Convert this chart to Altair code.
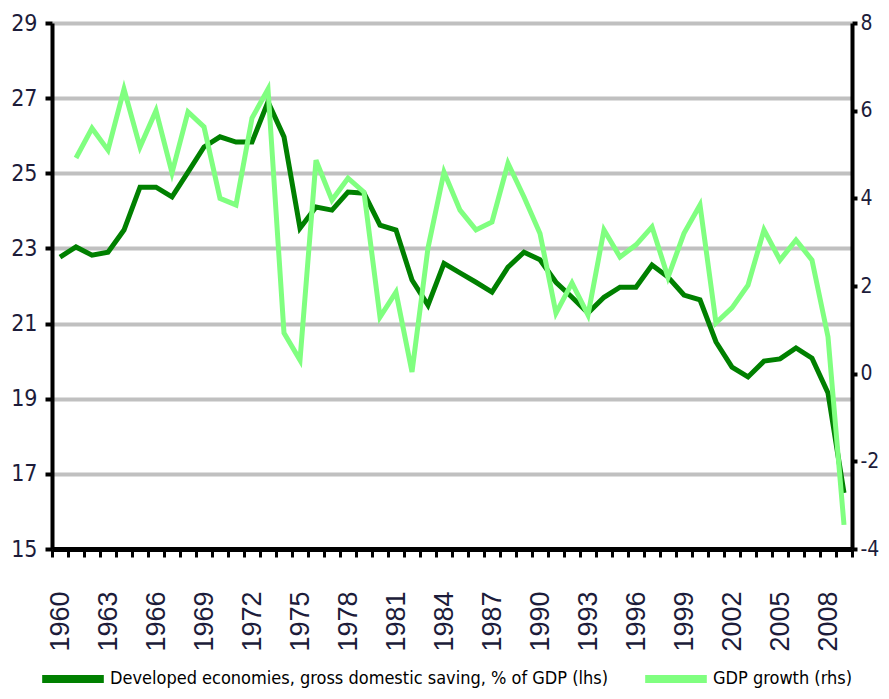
import altair as alt
import pandas as pd

years = list(range(1960, 2010))

saving = [22.77, 23.04, 22.82, 22.90, 23.49, 24.63, 24.63, 24.37, 25.03, 25.70,
          25.97, 25.83, 25.83, 26.90, 25.97, 23.54, 24.10, 24.02, 24.50, 24.47,
          23.62, 23.49, 22.16, 21.49, 22.60, 22.35, 22.10, 21.84, 22.50, 22.90,
          22.70, 22.10, 21.70, 21.28, 21.70, 21.97, 21.97, 22.56, 22.24, 21.76,
          21.63, 20.51, 19.84, 19.58, 20.00, 20.06, 20.35, 20.08, 19.15, 16.49]

growth_years = list(range(1961, 2010))
growth = [4.92, 5.60, 5.10, 6.49, 5.17, 6.00, 4.58, 5.97, 5.63,
          4.00, 3.85, 5.83, 6.49, 0.93, 0.31, 4.87, 3.96, 4.46, 4.14,
          1.29, 1.86, 0.04, 2.87, 4.60, 3.73, 3.28, 3.46, 4.80, 4.03,
          3.20, 1.38, 2.07, 1.34, 3.28, 2.66, 2.94, 3.35, 2.20, 3.20,
          3.85, 1.16, 1.50, 2.02, 3.28, 2.59, 3.05, 2.59, 0.84, -3.45]

name1 = "Developed economies, gross domestic saving, % of GDP (lhs)"
name2 = "GDP growth (rhs)"
left_ticks = [15, 17, 19, 21, 23, 25, 27, 29]
right_ticks = [-4, -2, 0, 2, 4, 6, 8]

df1 = pd.DataFrame({"year": years, "value": saving, "series": name1})
df2 = pd.DataFrame({"year": growth_years, "value": growth, "series": name2})

NARROW = "DejaVu Sans Condensed, Liberation Sans Narrow, sans-serif"
LABEL_COLOR = "#1c1c3a"

xenc = alt.X(
    "year:O",
    title=None,
    bandPosition=0.5,
    scale=alt.Scale(type="band", domain=years, paddingInner=0, paddingOuter=0),
    axis=alt.Axis(
        tickBand="extent",
        labelExpr="datum.value % 3 == 1 ? datum.label : ''",
        labelOverlap=False,
        labelAngle=270,
        labelFont="Liberation Sans, Arial, sans-serif",
        labelFontSize=27,
        labelColor=LABEL_COLOR,
        labelPadding=34,
        domainColor="black",
        domainWidth=5,
        tickColor="black",
        tickWidth=3,
        tickSize=8,
        grid=False,
    ),
)

color = alt.Color(
    "series:N",
    scale=alt.Scale(domain=[name1, name2], range=["#008000", "#80FF80"]),
    legend=alt.Legend(
        title=None,
        orient="none",
        direction="horizontal",
        legendX=-14,
        legendY=621,
        symbolType="stroke",
        symbolSize=3800,
        symbolStrokeWidth=8,
        labelFont=NARROW,
        labelFontSize=18,
        labelColor="black",
        labelOffset=2,
        columnPadding=20,
        labelLimit=700,
    ),
)

line1 = alt.Chart(df1).mark_line(strokeWidth=5).encode(
    x=xenc,
    y=alt.Y(
        "value:Q",
        title=None,
        scale=alt.Scale(domain=[15, 29], nice=False, zero=False),
        axis=alt.Axis(
            orient="left",
            values=left_ticks,
            grid=True,
            gridColor="#C0C0C0",
            gridWidth=4,
            domainColor="black",
            domainWidth=4,
            tickColor="black",
            tickWidth=4,
            tickSize=7,
            labelFont=NARROW,
            labelFontSize=23,
            labelColor=LABEL_COLOR,
            labelPadding=8,
        ),
    ),
    color=color,
)

line2 = alt.Chart(df2).mark_line(strokeWidth=5).encode(
    x=xenc,
    y=alt.Y(
        "value:Q",
        title=None,
        scale=alt.Scale(domain=[-4, 8], nice=False, zero=False),
        axis=alt.Axis(
            orient="right",
            values=right_ticks,
            grid=False,
            domainColor="black",
            domainWidth=4,
            tickColor="black",
            tickWidth=4,
            tickSize=5,
            labelExpr="datum.value < 0 ? '-' + abs(datum.value) : datum.label",
            labelFont=NARROW,
            labelFontSize=21,
            labelColor=LABEL_COLOR,
            labelPadding=3,
        ),
    ),
    color=color,
)

chart = (
    alt.layer(line1, line2)
    .resolve_scale(y="independent")
    .properties(
        width=800,
        height=526,
        autosize=alt.AutoSizeParams(type="none"),
        padding={"left": 44, "top": 15, "right": 29, "bottom": 142},
        background="white",
    )
    .configure_view(strokeWidth=0)
)

chart.save("out.html", embed_options={"renderer": "svg", "actions": False})
